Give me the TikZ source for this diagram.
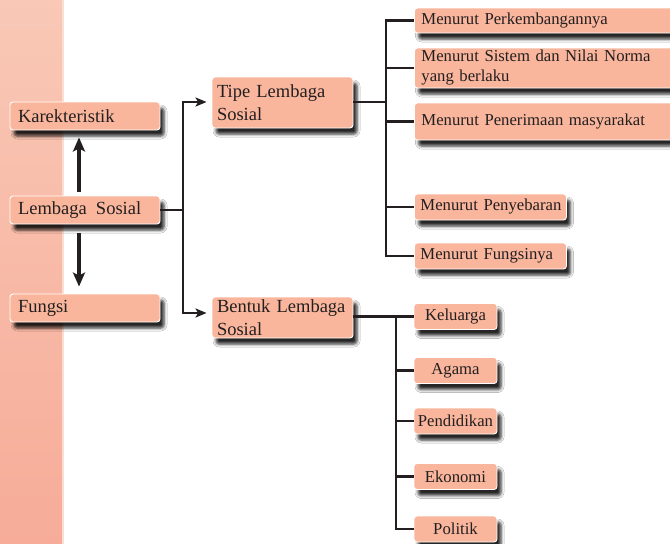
\documentclass[tikz,border=0pt]{standalone}
\usepackage{fontspec}
\setmainfont{Liberation Serif}
\usetikzlibrary{arrows.meta,shadows.blur}
\definecolor{boxfill}{HTML}{F9B69C}
\definecolor{striptop}{HTML}{F9C8B6}
\definecolor{stripbot}{HTML}{F6AC98}
\definecolor{linedark}{HTML}{231F20}

\begin{document}
\begin{tikzpicture}[x=1pt,y=-1pt,
    box/.style={draw=white, line width=0.9pt, fill=boxfill, rounded corners=3pt,
        blur shadow={shadow xshift=4pt, shadow yshift=-6pt, shadow blur radius=3pt, shadow opacity=85},
        text=linedark, inner ysep=2pt},
    mainbox/.style={box, font=\fontsize{18.5}{23}\selectfont, minimum width=150pt, minimum height=28pt,
        text width=134pt, inner xsep=8pt, align=left},
    typebox/.style={box, font=\fontsize{18.5}{23}\selectfont, minimum width=141pt,
        text width=131pt, inner xsep=5pt, align=left},
    longbox/.style={box, font=\fontsize{16.7}{20}\selectfont, text width=272pt, inner xsep=7pt, align=left},
    midbox/.style={box, font=\fontsize{16.7}{20}\selectfont, minimum width=152pt, minimum height=26pt,
        text width=140pt, inner xsep=6pt, align=left},
    smallbox/.style={box, font=\fontsize{16.7}{20}\selectfont, minimum width=83pt, minimum height=26pt,
        text width=79pt, inner xsep=2pt, align=center},
    link/.style={draw=linedark, line width=2.8pt},
    bigarrow/.style={draw=linedark, line width=3.2pt, -{Stealth[length=14pt,width=12pt,inset=3pt]}},
    tiparrow/.style={link, -{Stealth[length=11pt,width=9pt,inset=2.5pt]}}]
    % Page and side strip
    \clip (0,0) rectangle (670,544);
    \fill[white] (0,0) rectangle (670,544);
    \shade[top color=striptop, bottom color=stripbot] (0,0) rectangle (62,544);
    \fill[striptop!60!white] (62,0) rectangle (63.5,544);

    % Left column
    \node[mainbox] (karek) at (85,116) {Karekteristik};
    \node[mainbox] (lembaga) at (85,210) {Lembaga\hspace{3pt} Sosial};
    \node[mainbox] (fungsi) at (85,308) {Fungsi};

    % Types and forms
    \node[typebox, minimum height=51pt] (tipe) at (282.5,102.5) {Tipe Lembaga\\Sosial};
    \node[typebox, minimum height=41pt] (bentuk) at (282.5,317.5) {Bentuk Lembaga\\Sosial};

    % Types of institutions
    \node[longbox, minimum height=25pt, anchor=west] (perk) at (414,20.5) {Menurut Perkembangannya};
    \node[longbox, minimum height=40pt, anchor=west] (sistem) at (414,68) {Menurut Sistem dan Nilai Norma\\yang berlaku};
    \node[longbox, minimum height=37pt, anchor=west] (terima) at (414,121.5) {Menurut Penerimaan masyarakat};
    \node[midbox, anchor=west] (sebar) at (414,207) {\mbox{Menurut Penyebaran}};
    \node[midbox, anchor=west] (fungsinya) at (414,256) {Menurut Fungsinya};

    % Forms of institutions
    \node[smallbox] (keluarga) at (455.5,316.5) {Keluarga};
    \node[smallbox] (agama) at (455.5,370.5) {Agama};
    \node[smallbox] (didik) at (455.5,421) {Pendidikan};
    \node[smallbox] (ekonomi) at (455.5,476.5) {Ekonomi};
    \node[smallbox] (politik) at (455.5,529) {Politik};

    % Arrows up and down
    \draw[bigarrow, shorten <=4pt, shorten >=7pt] ([xshift=-6pt]lembaga.north) -- ([xshift=-6pt]karek.south);
    \draw[bigarrow, shorten <=9pt, shorten >=7pt] ([xshift=-6pt]lembaga.south) -- ([xshift=-6pt]fungsi.north);

    % Split to types and forms
    \coordinate (j1) at (183,210);
    \draw[link] (lembaga.east) -- (j1);
    \draw[tiparrow, shorten >=5pt] (j1) |- ([yshift=0.5pt]tipe.west);
    \draw[tiparrow, shorten >=5pt] (j1) |- ([yshift=4.5pt]bentuk.west);

    % Branches of types
    \coordinate (j2) at (386,102);
    \draw[link] ([yshift=0.5pt]tipe.east) -- (j2);
    \foreach \n in {perk,sistem,terima,sebar,fungsinya}
        \draw[link] (j2) |- (\n.west);

    % Branches of forms
    \coordinate (j3) at (396,316);
    \draw[link] (bentuk.east |- keluarga.west) -- (keluarga.west);
    \foreach \n in {agama,didik,ekonomi,politik}
        \draw[link] (j3) |- (\n.west);
\end{tikzpicture}
\end{document}
